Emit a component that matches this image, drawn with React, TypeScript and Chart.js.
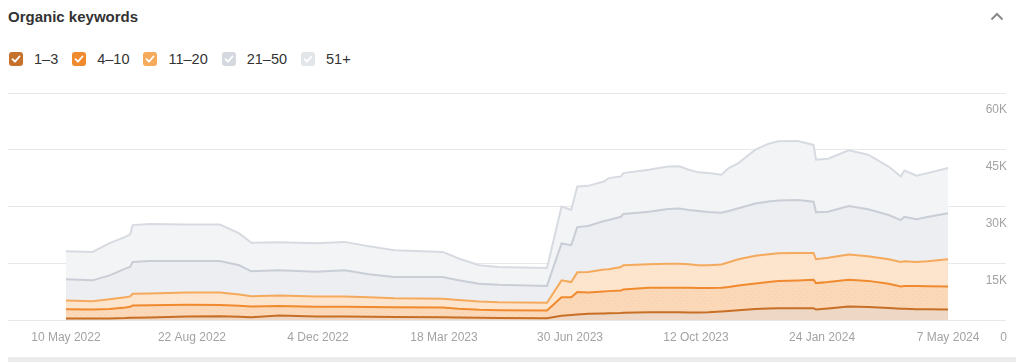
import React, { useEffect, useRef } from "react";
import { Chart, registerables } from "chart.js";

Chart.register(...registerables);

const startDate = "2022-05-10";

const dates = [
  "2022-05-10", "2022-06-01", "2022-06-15", "2022-06-28", "2022-07-02", "2022-07-04", "2022-07-18",
  "2022-08-18", "2022-09-14", "2022-09-30", "2022-10-10", "2022-11-02", "2022-12-02", "2022-12-26",
  "2023-01-15", "2023-02-05", "2023-03-17", "2023-03-30", "2023-04-16", "2023-05-02", "2023-06-11",
  "2023-06-23", "2023-07-01", "2023-07-06", "2023-07-15", "2023-07-28", "2023-08-01", "2023-08-11",
  "2023-08-13", "2023-09-03", "2023-09-19", "2023-09-28", "2023-10-06", "2023-10-14", "2023-10-22",
  "2023-11-02", "2023-11-08", "2023-11-16", "2023-11-30", "2023-12-11", "2023-12-19", "2024-01-04",
  "2024-01-17", "2024-01-19", "2024-01-29", "2024-02-15", "2024-03-02", "2024-03-19", "2024-03-29",
  "2024-04-01", "2024-04-11", "2024-04-20", "2024-05-07",
];

const kw1to3 = [
  530, 530, 580, 660, 720, 740, 800, 1060, 1140, 1010, 880, 1330, 1060, 1060, 1010, 930, 880, 800,
  720, 660, 610, 1250, 1460, 1590, 1780, 1860, 1910, 1990, 2040, 2200, 2200, 2200, 2120, 2120, 2200,
  2390, 2520, 2700, 3050, 3180, 3230, 3260, 3260, 2920, 3180, 3710, 3580, 3310, 3100, 3100, 3000,
  2970, 2920,
];

const kw4to10 = [
  2460, 2390, 2470, 2780, 2920, 3230, 3260, 3100, 2970, 2890, 2840, 2520, 2600, 2570, 2570, 2570,
  2570, 2310, 2120, 2070, 2040, 4930, 4720, 5960, 5650, 5830, 5860, 5960, 6180, 6470, 6470, 6470,
  6550, 6490, 6410, 6280, 6360, 6570, 6760, 7020, 7240, 7340, 7530, 6970, 6970, 7080, 6890, 6410,
  5910, 6040, 6100, 6100, 6100,
];

const kw11to20 = [
  2310, 2200, 2600, 2730, 2730, 3100, 3100, 3260, 3310, 3000, 2730, 2780, 2700, 2730, 2600, 2410,
  2310, 2330, 2200, 2120, 2040, 4430, 3980, 5170, 5380, 5750, 5750, 6180, 6360, 6180, 6310, 6310,
  6180, 5960, 5960, 6100, 6490, 6890, 7290, 7290, 7290, 7240, 7050, 6280, 6410, 6630, 6490, 6440,
  6440, 6490, 6360, 6570, 7160,
];

const kw21to50 = [
  5570, 5490, 6280, 7530, 7770, 8370, 8560, 8300, 8300, 7690, 6550, 6630, 6490, 6890, 6020, 5570,
  5720, 5170, 4690, 4610, 4450, 9730, 9730, 11930, 12110, 12800, 12990, 13250, 13520, 13860, 14440,
  14580, 14310, 14310, 14050, 13670, 13520, 13440, 13780, 13910, 13910, 13970, 13520, 12380, 12140,
  12800, 12380, 11660, 11050, 11740, 11240, 11660, 12110,
];

const kw51plus = [
  7420, 7500, 8480, 8370, 8590, 9730, 9730, 9590, 9590, 8400, 7500, 7420, 7550, 7500, 7420, 7080,
  6630, 5750, 4850, 4660, 4720, 9700, 9280, 10730, 10600, 10420, 11050, 10600, 10790, 11050, 11210,
  11130, 10600, 10200, 10260, 9990, 11320, 11930, 14180, 15240, 15580, 15560, 14950, 13860, 13970,
  14660, 14390, 12800, 11480, 12190, 11480, 11580, 11930,
];

const seriesLabels = ["1–3", "4–10", "11–20", "21–50", "51+"];

const tickDates = [
  "2022-05-10", "2022-08-22", "2022-12-04", "2023-03-18",
  "2023-06-30", "2023-10-12", "2024-01-24", "2024-05-07",
];
const tickLabels = [
  "10 May 2022", "22 Aug 2022", "4 Dec 2022", "18 Mar 2023",
  "30 Jun 2023", "12 Oct 2023", "24 Jan 2024", "7 May 2024",
];

const yTickValues = [0, 15000, 30000, 45000, 60000];
const yTickLabels = ["0", "15K", "30K", "45K", "60K"];

const DAY = 86400000;
const dayOf = (d: string) => Math.round((Date.parse(d) - Date.parse(startDate)) / DAY);

const lineColors = ["#c86f26", "#f08a2e", "#f5a95c", "#c9ced6", "#d7dbe1"];
const fillColors = ["#eed7c5", "#fbd8b8", "#fde5cd", "#eceef1", "#f3f4f6"];
const boxColors = ["#c7722c", "#f08a2e", "#f5aa5c", "#d5d9df", "#e2e5e9"];

const FONT = "'Liberation Sans', Arial, Helvetica, sans-serif";

function makeDotPattern(base: string, dot: string): CanvasPattern | string {
  const c = document.createElement("canvas");
  c.width = 6;
  c.height = 6;
  const ctx = c.getContext("2d");
  if (!ctx) return base;
  ctx.fillStyle = base;
  ctx.fillRect(0, 0, 6, 6);
  ctx.fillStyle = dot;
  ctx.fillRect(1, 1, 1, 1);
  ctx.fillRect(4, 4, 1, 1);
  const p = ctx.createPattern(c, "repeat");
  return p || base;
}

export default function App() {
  const canvasRef = useRef<HTMLCanvasElement | null>(null);

  useEffect(() => {
    if (!canvasRef.current) return;
    const series = [kw1to3, kw4to10, kw11to20, kw21to50, kw51plus];
    const xs = dates.map(dayOf);
    const firstDay = dayOf(tickDates[0]);
    const lastDay = dayOf(tickDates[tickDates.length - 1]);
    const pad = (lastDay - firstDay) * 0.0657;

    const datasets = series.map((arr, si) => ({
      label: seriesLabels[si],
      data: arr.map((v, i) => ({ x: xs[i], y: v })),
      borderColor: lineColors[si],
      backgroundColor: si === 1 ? makeDotPattern(fillColors[1], "#f7cdaa") : fillColors[si],
      borderWidth: 2,
      pointRadius: 0,
      tension: 0,
      fill: si === 0 ? "origin" : "-1",
    }));

    const chart = new Chart(canvasRef.current, {
      type: "line",
      data: { datasets: datasets as any },
      options: {
        animation: false,
        responsive: false,
        layout: { padding: { top: 13, left: 0, right: 0, bottom: 0 } },
        plugins: { legend: { display: false }, tooltip: { enabled: false } },
        scales: {
          x: {
            type: "linear",
            min: firstDay - pad,
            max: lastDay + pad,
            grid: { display: false, drawTicks: false },
            border: { display: false },
            afterBuildTicks: (scale: any) => {
              scale.ticks = tickDates.map((d) => ({ value: dayOf(d) }));
            },
            ticks: {
              autoSkip: false,
              maxRotation: 0,
              padding: 10,
              color: "#a3a3a3",
              font: { family: FONT, size: 12 },
              callback: (value: any) => {
                const i = tickDates.findIndex((d) => dayOf(d) === value);
                return i >= 0 ? tickLabels[i] : "";
              },
            },
          },
          y: {
            type: "linear",
            position: "right",
            stacked: true,
            min: 0,
            max: 60000,
            grid: { color: "#e8e8e8", lineWidth: 1, drawTicks: false },
            border: { display: false },
            afterBuildTicks: (scale: any) => {
              scale.ticks = yTickValues.map((v) => ({ value: v }));
            },
            ticks: {
              mirror: true,
              padding: 1,
              labelOffset: 17,
              color: "#a3a3a3",
              font: { family: FONT, size: 12 },
              callback: (value: any) => {
                const i = yTickValues.indexOf(value);
                return i >= 0 ? yTickLabels[i] : "";
              },
            },
          },
        },
      },
    });
    return () => chart.destroy();
  }, []);

  return (
    <div style={{ position: "relative", width: 1008, height: 354, fontFamily: FONT }}>
      <div
        style={{
          position: "absolute",
          left: 0,
          top: 0,
          fontSize: 15,
          lineHeight: "17px",
          fontWeight: 700,
          color: "#333333",
        }}
      >
        Organic keywords
      </div>
      <svg
        width={14}
        height={9}
        style={{ position: "absolute", left: 982, top: 4 }}
        viewBox="0 0 14 9"
      >
        <polyline points="1.5,7.5 7,2 12.5,7.5" fill="none" stroke="#8a8a8a" strokeWidth={2} />
      </svg>
      <div
        style={{
          position: "absolute",
          left: 1,
          top: 44,
          display: "flex",
          alignItems: "center",
          height: 14,
        }}
      >
        {seriesLabels.map((lab, i) => (
          <div key={lab} style={{ display: "flex", alignItems: "center", marginRight: 14 }}>
            <div
              style={{
                width: 14,
                height: 14,
                borderRadius: 3,
                background: boxColors[i],
                marginRight: 11,
                position: "relative",
              }}
            >
              <svg width={14} height={14} viewBox="0 0 14 14" style={{ position: "absolute", left: 0, top: 0 }}>
                <polyline
                  points="3.5,7.2 6,9.7 10.5,4.5"
                  fill="none"
                  stroke="#ffffff"
                  strokeWidth={1.8}
                  strokeLinecap="round"
                  strokeLinejoin="round"
                />
              </svg>
            </div>
            <span style={{ fontSize: 14.5, color: "#333333", lineHeight: "14px" }}>{lab}</span>
          </div>
        ))}
      </div>
      <canvas
        ref={canvasRef}
        width={1000}
        height={275}
        style={{ position: "absolute", left: 0, top: 72, width: 1000, height: 275 }}
      />
      <div
        style={{
          position: "absolute",
          left: -8,
          top: 349,
          width: 1024,
          height: 5,
          background: "#ececec",
        }}
      />
    </div>
  );
}
